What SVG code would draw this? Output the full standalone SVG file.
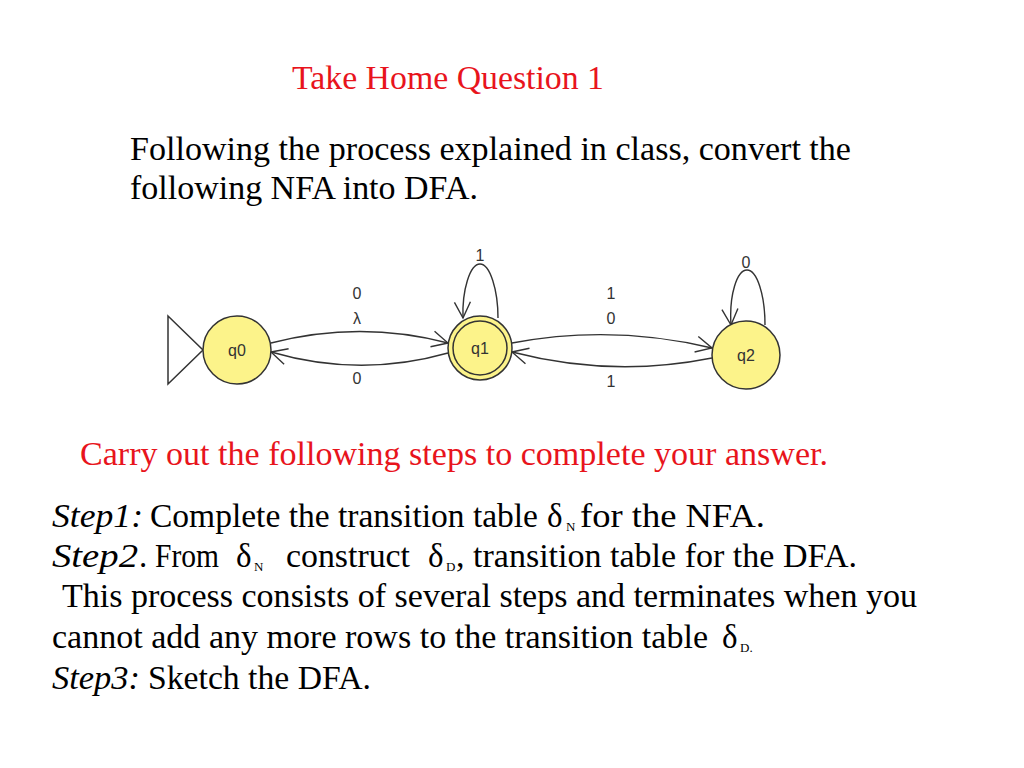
<svg xmlns="http://www.w3.org/2000/svg" width="1024" height="768" viewBox="0 0 1024 768">
<style>
.t{font-family:"Liberation Serif","Times New Roman",serif;font-size:33px;fill:#000}
.r{fill:#e8141c}
.i{font-style:italic}
.lbl{font-family:"Liberation Sans",Arial,sans-serif;font-size:16px;fill:#333;text-anchor:middle}
.st{fill:#fcf38a;stroke:#333;stroke-width:1.5}
.e{fill:none;stroke:#333;stroke-width:1.4}
.sub{font-size:13px}
</style>
<defs>
<marker id="ah" viewBox="0 0 20 20" refX="18" refY="10" markerWidth="20" markerHeight="20" markerUnits="userSpaceOnUse" orient="auto">
<path d="M2,2 L18,10 L2,18" fill="none" stroke="#333" stroke-width="1.4"/>
</marker>
</defs>
<rect width="1024" height="768" fill="#fff"/>
<text class="t r" x="292" y="89" textLength="312" lengthAdjust="spacingAndGlyphs">Take Home Question 1</text>
<text class="t" x="130" y="160" textLength="721" lengthAdjust="spacingAndGlyphs">Following the process explained in class, convert the</text>
<text class="t" x="130" y="199" textLength="348" lengthAdjust="spacingAndGlyphs">following NFA into DFA.</text>

<g id="start"><path d="M168,316 L203,350 L168,384 Z" fill="none" stroke="#333" stroke-width="1.5"/></g>
<g id="connectors">
<path class="e" d="M271,343 Q360,320 448,343" marker-end="url(#ah)"/>
<path class="e" d="M448,353 Q360,378 271,352" marker-end="url(#ah)"/>
<path class="e" d="M512,343 Q612,324 712,348" marker-end="url(#ah)"/>
<path class="e" d="M712,358 Q612,378 512,352" marker-end="url(#ah)"/>
<path class="e" d="M498,318 C498,290 490,264 480,264 C470,264 462,290 463,318" marker-end="url(#ah)"/>
<path class="e" d="M765,325 C765,295 757,270 747,270 C737,270 729,295 731,325" marker-end="url(#ah)"/>
</g>
<g id="labels">
<text class="lbl" x="357" y="299">0</text>
<text class="lbl" x="357" y="324">λ</text>
<text class="lbl" x="357" y="384">0</text>
<text class="lbl" x="611" y="299">1</text>
<text class="lbl" x="611" y="324">0</text>
<text class="lbl" x="611" y="387">1</text>
<text class="lbl" x="480" y="261">1</text>
<text class="lbl" x="746" y="268">0</text>
</g>
<g id="q0"><circle class="st" cx="237" cy="350" r="34"/><text class="lbl" x="237" y="356">q0</text></g>
<g id="q1"><circle class="st" cx="480" cy="348" r="32"/><circle class="st" cx="480" cy="348" r="27"/><text class="lbl" x="480" y="354">q1</text></g>
<g id="q2"><circle class="st" cx="746" cy="355" r="34"/><text class="lbl" x="746" y="361">q2</text></g>

<text class="t r" x="80" y="465" textLength="748" lengthAdjust="spacingAndGlyphs">Carry out the following steps to complete your answer.</text>
<g id="steps" class="t">
<text x="52" y="527" class="i" textLength="91" lengthAdjust="spacingAndGlyphs">Step1:</text>
<text x="150" y="527" textLength="388" lengthAdjust="spacingAndGlyphs">Complete the transition table</text>
<text x="547" y="527">δ</text><text x="566" y="531" class="sub">N</text>
<text x="580" y="527" textLength="185" lengthAdjust="spacingAndGlyphs">for the NFA.</text>

<text x="52" y="567" class="i" textLength="86" lengthAdjust="spacingAndGlyphs">Step2</text>
<text x="139" y="567">.</text>
<text x="155" y="567" textLength="64" lengthAdjust="spacingAndGlyphs">From</text>
<text x="236" y="567">δ</text><text x="254" y="571" class="sub">N</text>
<text x="286" y="567" textLength="124" lengthAdjust="spacingAndGlyphs">construct</text>
<text x="428" y="567">δ</text><text x="446" y="571" class="sub">D</text>
<text x="456" y="567" textLength="401" lengthAdjust="spacingAndGlyphs">, transition table for the DFA.</text>

<text x="62" y="607" textLength="855" lengthAdjust="spacingAndGlyphs">This process consists of several steps and terminates when you</text>

<text x="52" y="648" textLength="656" lengthAdjust="spacingAndGlyphs">cannot add any more rows to the transition table</text>
<text x="722" y="648">δ</text><text x="740" y="652" class="sub">D.</text>

<text x="52" y="689" class="i" textLength="88" lengthAdjust="spacingAndGlyphs">Step3:</text>
<text x="148" y="689" textLength="223" lengthAdjust="spacingAndGlyphs">Sketch the DFA.</text>
</g>
</svg>
